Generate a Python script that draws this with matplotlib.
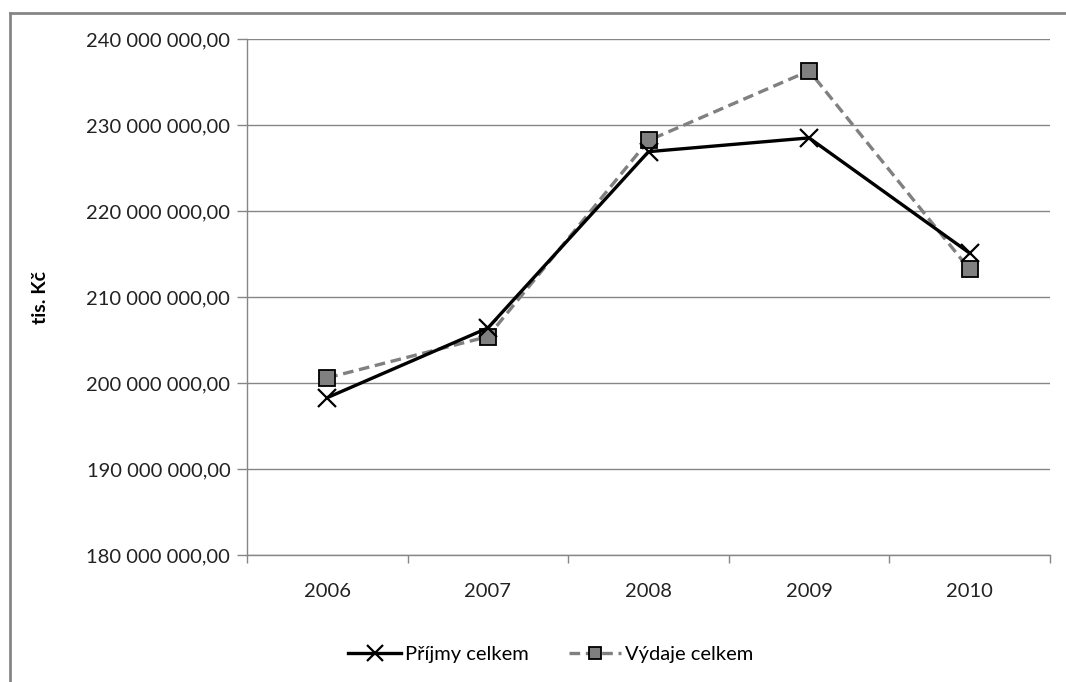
import matplotlib as mpl
import matplotlib.pyplot as plt
from matplotlib.lines import Line2D
from matplotlib.ticker import FuncFormatter, FixedLocator

years = ["2006", "2007", "2008", "2009", "2010"]
prijmy = [198.3e6, 206.4e6, 226.9e6, 228.5e6, 215.1e6]
vydaje = [200.6e6, 205.4e6, 228.2e6, 236.3e6, 213.2e6]

plt.rcParams["font.family"] = ["Lato", "DejaVu Sans"]
FS = 14.5

fig = plt.figure(figsize=(10.66, 6.82), dpi=100)
ax = fig.add_axes([247 / 1066, 1 - 555 / 682, (1050 - 247) / 1066, (555 - 39) / 682])

x = list(range(len(years)))
ax.plot(x, prijmy, color="black", lw=2.4, marker="x", ms=13, mew=1.6,
        label="Příjmy celkem", zorder=4)
ax.plot(x, vydaje, color="#808080", lw=2.4, ls=(0, (3.2, 1.7)), marker="s", ms=11,
        mfc="#808080", mec="black", mew=1.3, label="Výdaje celkem", zorder=3)

ax.set_xlim(-0.5, len(years) - 0.5)
ax.set_ylim(180e6, 240e6)
ax.set_yticks([180e6 + i * 10e6 for i in range(7)])
ax.yaxis.set_major_formatter(FuncFormatter(
    lambda v, p: f"{v:,.2f}".replace(",", " ").replace(".", ",")))
ax.set_xticks(x)
ax.set_xticklabels(years)
ax.xaxis.set_minor_locator(FixedLocator([i - 0.5 for i in range(len(years) + 1)]))
ax.tick_params(axis="x", which="major", length=0, pad=20, labelsize=FS)
ax.tick_params(axis="x", which="minor", length=6, color="#868686", width=1, direction="out")
ax.tick_params(axis="y", length=7, color="#868686", width=1, pad=5, labelsize=FS)
for lbl in ax.get_xticklabels() + ax.get_yticklabels():
    lbl.set_color("#222222")

ax.grid(axis="y", color="#868686", lw=1)
ax.set_axisbelow(True)
for s in ["top", "right"]:
    ax.spines[s].set_visible(False)
for s in ["left", "bottom"]:
    ax.spines[s].set_color("#868686")
    ax.spines[s].set_linewidth(1)

fig.text(40 / 1066, 1 - 297 / 682, "tis. Kč", rotation=90, ha="center", va="center",
         fontsize=14, fontweight="bold")

ax.legend(loc="center", bbox_to_anchor=(551 / 1066, 1 - 654 / 682), bbox_transform=fig.transFigure,
          ncol=2, frameon=False, fontsize=FS, handlelength=2.6, handletextpad=0.2,
          columnspacing=2.0, markerscale=0.85)

# outer chart-area border (top and left only visible)
fig.add_artist(Line2D([10 / 1066, 10 / 1066], [0, 1 - 13 / 682], transform=fig.transFigure,
                      color="#868686", lw=2))
fig.add_artist(Line2D([10 / 1066, 1], [1 - 13 / 682, 1 - 13 / 682], transform=fig.transFigure,
                      color="#868686", lw=2))

fig.savefig("out.png", dpi=100)
